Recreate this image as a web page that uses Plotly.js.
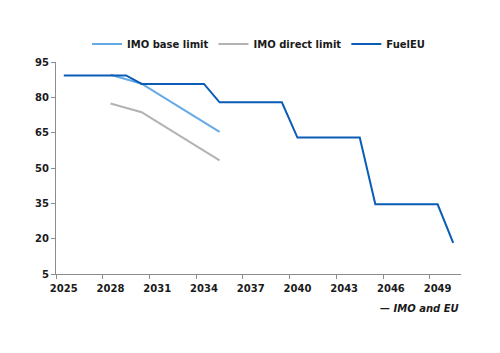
<!DOCTYPE html>
<html>
<head>
<meta charset="utf-8">
<script src="https://cdn.plot.ly/plotly-3.0.1.min.js"></script>
<style>html,body{margin:0;padding:0;background:#fff;}#chart{width:500px;height:353px;}</style>
</head>
<body>
<div id="chart"></div>
<script>
// Data (gCO2e/MJ intensity limits)
const imoBaseYears = [2028, 2029, 2030, 2031, 2032, 2033, 2034, 2035];
const imoBaseValues = [89.6, 87.7, 85.8, 81.7, 77.6, 73.5, 69.4, 65.3];

const imoDirectYears = [2028, 2029, 2030, 2031, 2032, 2033, 2034, 2035];
const imoDirectValues = [77.4, 75.6, 73.7, 69.6, 65.5, 61.4, 57.3, 53.2];

const fuelEUYears = [2025, 2029, 2030, 2034, 2035, 2039, 2040, 2044, 2045, 2049, 2050];
const fuelEUValues = [89.3, 89.3, 85.7, 85.7, 77.9, 77.9, 62.9, 62.9, 34.6, 34.6, 18.2];

const xTickLabels = ['2025', '2028', '2031', '2034', '2037', '2040', '2043', '2046', '2049'];
const yTickValues = [5, 20, 35, 50, 65, 80, 95];

const seriesNames = ['IMO base limit', 'IMO direct limit', 'FuelEU'];
const sourceText = '— IMO and EU';

const fontFamily = '"DejaVu Sans", Verdana, sans-serif';
const textColor = '#1a1a1a';
const axisColor = '#8c8c8c';

const traces = [
  {x: imoBaseYears, y: imoBaseValues, name: seriesNames[0], type: 'scatter', mode: 'lines',
   line: {color: '#66aae6', width: 2}},
  {x: imoDirectYears, y: imoDirectValues, name: seriesNames[1], type: 'scatter', mode: 'lines',
   line: {color: '#b3b3b3', width: 2}},
  {x: fuelEUYears, y: fuelEUValues, name: seriesNames[2], type: 'scatter', mode: 'lines',
   line: {color: '#0a5cb4', width: 2}}
];

const layout = {
  width: 500, height: 353,
  margin: {l: 56, r: 39, t: 62, b: 79},
  paper_bgcolor: '#fff', plot_bgcolor: '#fff',
  font: {family: fontFamily, size: 10, color: textColor},
  showlegend: true,
  legend: {orientation: 'h', x: 0.5, xanchor: 'center', y: 1.085, yanchor: 'middle',
           font: {family: fontFamily, size: 10, color: textColor, weight: 'bold'},
           itemwidth: 30, tracegroupgap: 0},
  xaxis: {
    type: 'linear', range: [2024.5, 2050.5],
    tickmode: 'array', tickvals: xTickLabels.map(Number), ticktext: xTickLabels,
    ticks: '', ticklabelstandoff: 5, showgrid: false, zeroline: false,
    showline: true, linecolor: axisColor, linewidth: 1,
    tickfont: {family: fontFamily, size: 10, color: textColor, weight: 'bold'},
    minor: {tickmode: 'linear', tick0: 2024.5, dtick: 3, ticks: 'outside', ticklen: 4,
            tickcolor: axisColor, tickwidth: 1, showgrid: false}
  },
  yaxis: {
    range: [5, 95], tickmode: 'array', tickvals: yTickValues,
    ticks: 'outside', ticklen: 4, tickcolor: axisColor, tickwidth: 1,
    showgrid: false, zeroline: false,
    showline: true, linecolor: axisColor, linewidth: 1,
    tickfont: {family: fontFamily, size: 10, color: textColor, weight: 'bold'}
  },
  annotations: [{
    text: sourceText, xref: 'paper', yref: 'paper', x: 1, y: -0.165,
    xanchor: 'right', yanchor: 'middle', showarrow: false,
    font: {family: fontFamily, size: 10, color: textColor, weight: 'bold', style: 'italic'}
  }]
};

Plotly.newPlot('chart', traces, layout, {staticPlot: true, displayModeBar: false});
</script>
</body>
</html>
